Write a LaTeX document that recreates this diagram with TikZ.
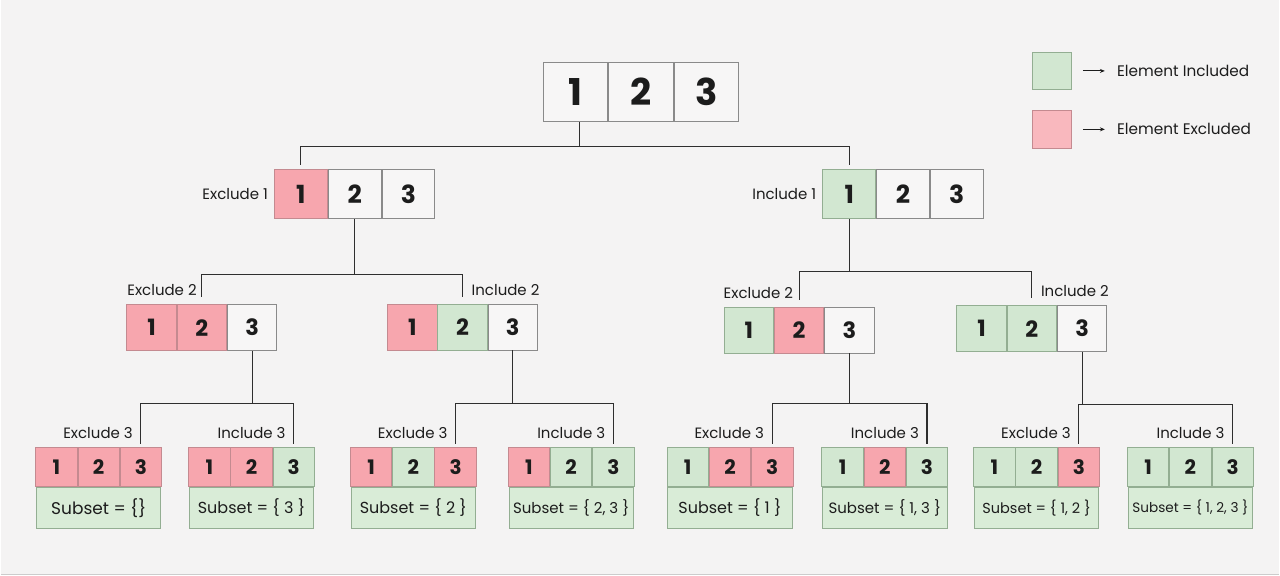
\documentclass[tikz,border=0pt]{standalone}
\usepackage{fontspec}
\setmainfont{Poppins}
\usetikzlibrary{positioning,arrows.meta}
\definecolor{bgc}{HTML}{F4F3F3}
\definecolor{excfill}{HTML}{F7A6AE}
\definecolor{excline}{HTML}{C48A90}
\definecolor{incfill}{HTML}{D2E7D1}
\definecolor{incline}{HTML}{93AE92}
\definecolor{nonfill}{HTML}{F7F6F6}
\definecolor{nonline}{HTML}{8A8A8A}
\definecolor{subfill}{HTML}{D9ECD7}
\definecolor{ink}{HTML}{1C1C1C}
\definecolor{wire}{HTML}{2E2E2E}
\tikzset{
  cellc/.style={fill=#1fill, draw=#1line},
  cell/.style={inner sep=0, line width=0.8pt, text=ink},
  c0/.style={cell, minimum width=64.7pt, minimum height=60pt, font=\bfseries\fontsize{37}{37}\selectfont},
  c1/.style={cell, minimum width=53pt, minimum height=49pt, font=\bfseries\fontsize{25}{25}\selectfont},
  c2/.style={cell, minimum width=49.5pt, minimum height=46pt, font=\bfseries\fontsize{22.5}{22.5}\selectfont},
  c3/.style={cell, minimum width=41.5pt, minimum height=39pt, font=\bfseries\fontsize{20}{20}\selectfont},
  subbox/.style={cell, fill=subfill, draw=incline, minimum width=124.5pt, minimum height=41pt},
  lbl/.style={inner sep=0, text=ink, font=\fontsize{15}{15}\selectfont},
  link/.style={draw=wire, line width=1.1pt},
  legsq/.style={minimum width=39pt, minimum height=38pt, line width=0.8pt}
}
\begin{document}
\begin{tikzpicture}[x=1pt,y=-1pt]
\fill[bgc] (0,0) rectangle (1280,576);
\draw[gray!40, line width=1.5pt] (0,575) -- (1280,575);

% root
\node[c0,cellc=non] (r1) at (575.5,92) {1};
\node[c0,cellc=non,right=0pt of r1] (r2) {2};
\node[c0,cellc=non,right=0pt of r2] (r3) {3};

% level 1
\node[c1,cellc=exc] (a1) at (300.5,194.5) {1};
\node[c1,cellc=non,right=0pt of a1] (a2) {2};
\node[c1,cellc=non,right=0pt of a2] (a3) {3};
\node[lbl,left=6pt of a1] {Exclude 1};

\node[c1,cellc=inc] (b1) at (849.5,194.5) {1};
\node[c1,cellc=non,right=0pt of b1] (b2) {2};
\node[c1,cellc=non,right=0pt of b2] (b3) {3};
\node[lbl,left=6pt of b1] {Include 1};

% level 2
\node[c2,cellc=exc] (aa1) at (151,328) {1};
\node[c2,cellc=exc,right=0pt of aa1] (aa2) {2};
\node[c2,cellc=non,right=0pt of aa2] (aa3) {3};
\node[lbl,anchor=south east] at ([xshift=-5pt,yshift=8pt]aa2.north) {Exclude 2};

\node[c2,cellc=exc] (ab1) at (412,327.5) {1};
\node[c2,cellc=inc,right=0pt of ab1] (ab2) {2};
\node[c2,cellc=non,right=0pt of ab2] (ab3) {3};
\node[lbl,anchor=south west] at ([xshift=9pt,yshift=8pt]ab2.north) {Include 2};

\node[c2,cellc=inc] (ba1) at (749,330.5) {1};
\node[c2,cellc=exc,right=0pt of ba1] (ba2) {2};
\node[c2,cellc=non,right=0pt of ba2] (ba3) {3};
\node[lbl,anchor=south east] at ([xshift=-6pt,yshift=8pt]ba2.north) {Exclude 2};

\node[c2,cellc=inc] (bb1) at (982,329) {1};
\node[c2,cellc=inc,right=0pt of bb1] (bb2) {2};
\node[c2,cellc=non,right=0pt of bb2] (bb3) {3};
\node[lbl,anchor=south west] at ([xshift=9pt,yshift=8pt]bb2.north) {Include 2};

% leaves
\foreach \n/\x/\a/\b/\c/\z/\s/\t in {
  1/35/exc/exc/exc/17/{\{\}}/Exclude 3,
  2/188/exc/exc/inc/16/{\{ 3 \}}/Include 3,
  3/350/exc/inc/exc/16/{\{ 2 \}}/Exclude 3,
  4/508/exc/inc/inc/15/{\{ 2, 3 \}}/Include 3,
  5/667/inc/exc/exc/16/{\{ 1 \}}/Exclude 3,
  6/822/inc/exc/inc/15/{\{ 1, 3 \}}/Include 3,
  7/974/inc/inc/exc/14.5/{\{ 1, 2 \}}/Exclude 3,
  8/1128/inc/inc/inc/13.6/{\{ 1, 2, 3 \}}/Include 3}{
  \node[c3,cellc=\a] (l\n-1) at (\x+20.75,467.5) {1};
  \node[c3,cellc=\b,right=0pt of l\n-1] (l\n-2) {2};
  \node[c3,cellc=\c,right=0pt of l\n-2] (l\n-3) {3};
  \node[subbox,below=0pt of l\n-2,font=\fontsize{\z}{\z}\selectfont] (l\n-s) {Subset = \s};
  \node[lbl,anchor=south east] at ([xshift=-8pt,yshift=8pt]l\n-3.north) {\t};
}

% connectors
\coordinate (j0) at ([xshift=4pt]r1.south |- 0,147);
\draw[link] ([xshift=4pt]r1.south) -- (j0);
\draw[link,shorten >=4pt] (j0) -| (a1.north);
\draw[link,shorten >=4pt] (j0) -| (b1.north);

\coordinate (ja) at (a2.south |- 0,275);
\draw[link] (a2.south) -- (ja);
\draw[link,shorten >=7pt] (ja) -| (aa2.north);
\draw[link,shorten >=7pt] (ja) -| (ab2.north);

\coordinate (jb) at (b1.south |- 0,272);
\draw[link] (b1.south) -- (jb);
\draw[link,shorten >=7pt] (jb) -| (ba2.north);
\draw[link,shorten >=7pt] (jb) -| (bb2.north);

\coordinate (jaa) at (aa3.south |- 0,404);
\draw[link] (aa3.south) -- (jaa);
\draw[link,shorten >=3pt] (jaa) -| (l1-3.north);
\draw[link,shorten >=3pt] (jaa) -| (l2-3.north);

\coordinate (jab) at (ab3.south |- 0,404);
\draw[link] (ab3.south) -- (jab);
\draw[link,shorten >=3pt] (jab) -| (l3-3.north);
\draw[link,shorten >=3pt] (jab) -| (l4-3.north);

\coordinate (jba) at (ba3.south |- 0,404);
\draw[link] (ba3.south) -- (jba);
\draw[link,shorten >=3pt] (jba) -| (l5-3.north);
\draw[link,shorten >=3pt] (jba) -| (l6-3.north);

\coordinate (jbb) at (bb3.south |- 0,405);
\draw[link] (bb3.south) -- (jbb);
\draw[link,shorten >=3pt] (jbb) -| (l7-3.north);
\draw[link,shorten >=3pt] (jbb) -| (l8-3.north);

% legend
\node[legsq,fill=incfill,draw=incline] (gsq) at (1052.5,71) {};
\node[lbl,right=45pt of gsq,font=\fontsize{15.3}{15.3}\selectfont] (gtxt) {Element Included};
\draw[-{Stealth[length=5pt,width=4pt]},line width=1pt,ink] ([xshift=11pt]gsq.east) -- ([xshift=-12pt]gtxt.west);
\node[legsq,fill=excfill!80,draw=excline] (rsq) at (1052.5,129.5) {};
\node[lbl,right=45pt of rsq,font=\fontsize{15.3}{15.3}\selectfont] (rtxt) {Element Excluded};
\draw[-{Stealth[length=5pt,width=4pt]},line width=1pt,ink] ([xshift=11pt]rsq.east) -- ([xshift=-12pt]rtxt.west);
\end{tikzpicture}
\end{document}
